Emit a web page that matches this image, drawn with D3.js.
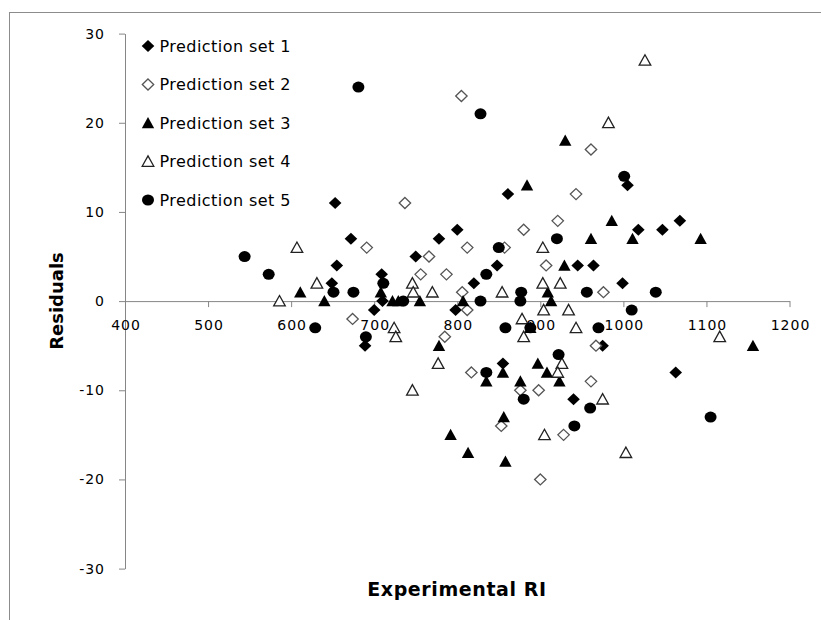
<!DOCTYPE html>
<html>
<head>
<meta charset="utf-8">
<script src="https://cdn.jsdelivr.net/npm/d3@7"></script>
<style>
  html, body { margin: 0; padding: 0; background: #fff; }
  svg { display: block; font-family: "DejaVu Sans", sans-serif; }
</style>
</head>
<body>
<svg id="chart" width="821" height="620"></svg>
<script>
// residuals vs experimental RI, one [RI, residual] list per prediction set
const seriesNames = ["Prediction set 1", "Prediction set 2", "Prediction set 3", "Prediction set 4", "Prediction set 5"];

const set1 = [[653,11],[672,7],[655,4],[649,2],[700,-1],[709,3],[710,0],[689,-5],[750,5],[778,7],
  [800,8],[798,-1],[820,2],[848,4],[861,12],[855,-7],[945,4],[964,4],[940,-11],[975,-5],
  [999,2],[1005,13],[1018,8],[1047,8],[1068,9],[1063,-8]];

const set2 = [[805,23],[737,11],[691,6],[674,-2],[766,5],[756,3],[787,3],[812,6],[806,1],[812,-1],
  [785,-4],[817,-8],[857,6],[880,8],[921,9],[907,4],[943,12],[961,17],[976,1],[967,-5],
  [961,-9],[876,-10],[898,-10],[853,-14],[928,-15],[900,-20]];

const set3 = [[611,1],[640,0],[708,1],[722,0],[729,0],[755,0],[778,-5],[807,0],[792,-15],[813,-17],
  [835,-9],[855,-8],[856,-13],[858,-18],[876,-9],[884,13],[888,-3],[897,-7],[908,-8],[909,1],
  [913,0],[923,-9],[929,4],[930,18],[961,7],[986,9],[1011,7],[1093,7],[1156,-5]];

const set4 = [[586,0],[607,6],[631,2],[724,-3],[726,-4],[746,2],[747,1],[746,-10],[770,1],[777,-7],
  [854,1],[878,-2],[880,-4],[903,6],[903,2],[904,-1],[905,-15],[924,2],[934,-1],[926,-7],
  [921,-8],[943,-3],[975,-11],[982,20],[1003,-17],[1026,27],[1116,-4]];

const set5 = [[544,5],[573,3],[629,-3],[651,1],[675,1],[681,24],[690,-4],[711,2],[735,0],[828,21],
  [828,0],[835,3],[835,-8],[850,6],[858,-3],[877,1],[876,0],[880,-11],[888,-3],[920,7],
  [922,-6],[941,-14],[956,1],[960,-12],[970,-3],[1001,14],[1010,-1],[1039,1],[1105,-13]];

const xTicks = [400, 500, 600, 700, 800, 900, 1000, 1100, 1200];
const yTicks = [-30, -20, -10, 0, 10, 20, 30];

const allSets = [set1, set2, set3, set4, set5];

// marker look for each set, Excel style
const markers = [
  { shape: "diamond",  fill: "#000", stroke: "none", sw: 0 },
  { shape: "diamond",  fill: "#fff", stroke: "#555", sw: 1.3 },
  { shape: "triangle", fill: "#000", stroke: "none", sw: 0 },
  { shape: "triangle", fill: "#fff", stroke: "#222", sw: 1.3 },
  { shape: "circle",   fill: "#000", stroke: "none", sw: 0 }
];

function markerPath(shape, hollow) {
  if (shape === "diamond") {
    const w = hollow ? 5.7 : 6.3, h = hollow ? 5.5 : 6;
    return `M0,${-h}L${w},0L0,${h}L${-w},0Z`;
  }
  if (shape === "triangle") {
    const w = hollow ? 5.8 : 6.2, t = hollow ? 5.6 : 6, b = hollow ? 4.8 : 5.2;
    return `M0,${-t}L${w},${b}L${-w},${b}Z`;
  }
  return "M-6,0A6,5.5 0 1,0 6,0A6,5.5 0 1,0 -6,0Z";
}

const svg = d3.select("#chart");

const x = d3.scaleLinear().domain([400, 1200]).range([125, 789.5]);
const y = d3.scaleLinear().domain([-30, 30]).range([568.6, 33.6]);

const axisColor = "#868686";

// outer chart frame, runs off the right and bottom
svg.append("rect")
  .attr("x", 9.5).attr("y", 12.5)
  .attr("width", 1000).attr("height", 1000)
  .attr("fill", "none")
  .attr("stroke", "#8c8c8c")
  .attr("stroke-width", 1);

const yAxis = svg.append("g")
  .attr("transform", `translate(${x(400)},0)`)
  .call(d3.axisLeft(y).tickValues(yTicks).tickSize(6).tickSizeOuter(0).tickPadding(14)
    .tickFormat(d => String(d)));

const xAxis = svg.append("g")
  .attr("transform", `translate(0,${y(0)})`)
  .call(d3.axisBottom(x).tickValues(xTicks).tickSize(6).tickSizeOuter(0).tickPadding(13)
    .tickFormat(d => String(d)));

[xAxis, yAxis].forEach(g => {
  g.select(".domain").attr("stroke", axisColor);
  g.selectAll(".tick line").attr("stroke", axisColor);
  g.selectAll(".tick text")
    .attr("fill", "#000")
    .style("font-family", "'DejaVu Sans', sans-serif")
    .style("font-size", "14px")
    .style("letter-spacing", "1px");
});
xAxis.selectAll(".tick text").attr("dx", "0.5px");

// points, series drawn in order so set 5 ends on top
allSets.forEach((data, i) => {
  const m = markers[i];
  svg.append("g")
    .selectAll("path")
    .data(data)
    .join("path")
    .attr("transform", d => `translate(${x(d[0])},${y(d[1])})`)
    .attr("d", markerPath(m.shape, m.fill === "#fff"))
    .attr("fill", m.fill)
    .attr("stroke", m.stroke)
    .attr("stroke-width", m.sw);
});

// legend
const legend = svg.append("g");
const rowY = d3.scalePoint().domain(seriesNames).range([46, 200]);

seriesNames.forEach((name, i) => {
  const m = markers[i];
  const cy = rowY(name);
  legend.append("path")
    .attr("transform", `translate(148,${cy})`)
    .attr("d", markerPath(m.shape, m.fill === "#fff"))
    .attr("fill", m.fill)
    .attr("stroke", m.stroke)
    .attr("stroke-width", m.sw);
  legend.append("text")
    .attr("x", 159.5)
    .attr("y", cy + 5.8)
    .attr("fill", "#000")
    .style("font-size", "16px")
    .style("letter-spacing", "0.45px")
    .text(name);
});

// axis titles
svg.append("text")
  .attr("x", 457)
  .attr("y", 596)
  .attr("text-anchor", "middle")
  .style("font-size", "19px")
  .style("font-weight", "bold")
  .style("letter-spacing", "0.6px")
  .text("Experimental RI");

svg.append("text")
  .attr("transform", "translate(63,301) rotate(-90)")
  .attr("text-anchor", "middle")
  .style("font-size", "18px")
  .style("font-weight", "bold")
  .text("Residuals");
</script>
</body>
</html>
